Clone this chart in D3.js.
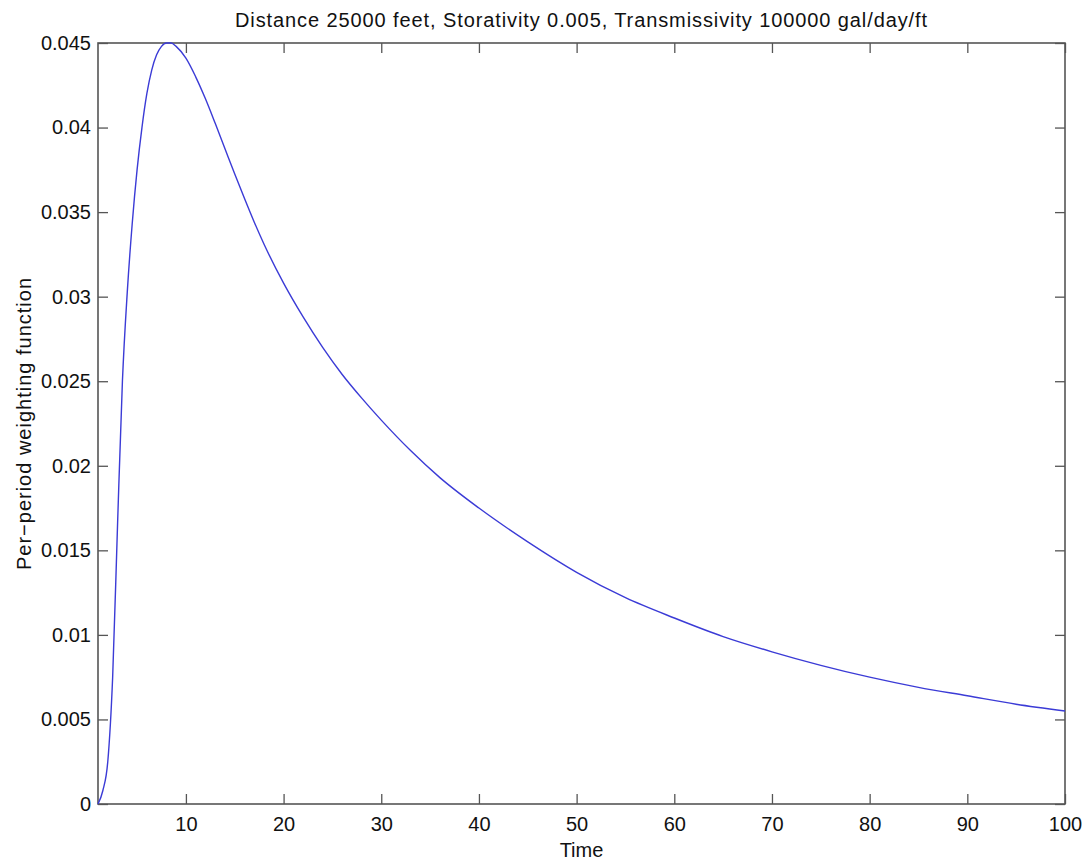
<!DOCTYPE html>
<html>
<head>
<meta charset="utf-8">
<script src="https://cdn.jsdelivr.net/npm/d3@7"></script>
<style>
  body { margin: 0; background: #fff; }
  svg text { font-family: "Liberation Sans", Arial, sans-serif; fill: #111; }
</style>
</head>
<body>
<div id="chart"></div>
<script>
// Time (periods) and weighting value
const times = [1, 1.5, 2, 2.5, 3, 3.5, 4, 4.5, 5, 5.5, 6, 6.5, 7, 7.5, 8, 8.5, 9, 10, 11, 12, 13, 14, 15,
    16, 17, 18, 20, 22, 24, 26, 28, 30, 33, 36, 40, 45, 50, 55, 60, 65, 70, 75, 80, 85, 90, 95, 100];
const weights = [0, 0.0008, 0.0025, 0.0075, 0.0165, 0.0250, 0.0303, 0.0343, 0.0375, 0.0400, 0.0420, 0.0434,
    0.0443, 0.0448, 0.0450, 0.0450, 0.0448, 0.0441, 0.0430, 0.0417, 0.04025, 0.03875, 0.03725,
    0.0358, 0.0344, 0.0331, 0.0308, 0.0288, 0.0270, 0.0254, 0.0240, 0.0227, 0.0209, 0.0193, 0.0175,
    0.0155, 0.0137, 0.0122, 0.0110, 0.0099, 0.0090, 0.0082, 0.0075, 0.0069, 0.0064, 0.0059, 0.0055];

const xTicks = [10, 20, 30, 40, 50, 60, 70, 80, 90, 100];
const yTicks = [0, 0.005, 0.01, 0.015, 0.02, 0.025, 0.03, 0.035, 0.04, 0.045];
const yTickLabels = ['0', '0.005', '0.01', '0.015', '0.02', '0.025', '0.03', '0.035', '0.04', '0.045'];

const titleText = 'Distance 25000 feet, Storativity 0.005, Transmissivity 100000 gal/day/ft';
const xLabel = 'Time';
const yLabel = 'Per\u2212period weighting function';

const W = 1089, H = 865;
const margin = {top: 43, right: 24, bottom: 61, left: 98};
const width = W - margin.left - margin.right;
const height = H - margin.top - margin.bottom;

const svg = d3.select('#chart').append('svg')
    .attr('width', W)
    .attr('height', H);

svg.append('rect').attr('width', W).attr('height', H).attr('fill', '#fff');

const g = svg.append('g')
    .attr('transform', `translate(${margin.left},${margin.top})`);

const x = d3.scaleLinear().domain([1, 100]).range([0, width]);
const y = d3.scaleLinear().domain([0, 0.045]).range([height, 0]);

const axisColor = '#555';
const fontSize = '20px';

function styleAxis(sel) {
    sel.select('.domain').remove();
    sel.selectAll('.tick line').attr('stroke', axisColor).attr('stroke-width', 1.3);
    sel.selectAll('.tick text').style('font-size', fontSize).attr('fill', '#111');
}

// bottom axis, ticks pointing inward
g.append('g')
    .attr('transform', `translate(0,${height})`)
    .call(d3.axisBottom(x).tickValues(xTicks).tickFormat(d3.format('d'))
        .tickSizeInner(-10).tickSizeOuter(0).tickPadding(13))
    .call(styleAxis);

// top mirrored ticks
g.append('g')
    .call(d3.axisTop(x).tickValues(xTicks).tickFormat('')
        .tickSizeInner(-10).tickSizeOuter(0))
    .call(styleAxis);

// left axis
g.append('g')
    .call(d3.axisLeft(y).tickValues(yTicks).tickFormat((d, i) => yTickLabels[i])
        .tickSizeInner(-10).tickSizeOuter(0).tickPadding(7))
    .call(styleAxis);

// right mirrored ticks
g.append('g')
    .attr('transform', `translate(${width},0)`)
    .call(d3.axisRight(y).tickValues(yTicks).tickFormat('')
        .tickSizeInner(-10).tickSizeOuter(0))
    .call(styleAxis);

// box
g.append('rect')
    .attr('width', width)
    .attr('height', height)
    .attr('fill', 'none')
    .attr('stroke', axisColor)
    .attr('stroke-width', 1.6);

// the curve
const data = times.map((t, i) => ({t: t, v: weights[i]}));
const line = d3.line()
    .x(d => x(d.t))
    .y(d => y(d.v))
    .curve(d3.curveMonotoneX);

g.append('path')
    .datum(data)
    .attr('fill', 'none')
    .attr('stroke', '#3b3bd6')
    .attr('stroke-width', 1.4)
    .attr('d', line);

// labels
svg.append('text')
    .attr('x', margin.left + width / 2)
    .attr('y', 27)
    .attr('text-anchor', 'middle')
    .style('font-size', fontSize)
    .style('letter-spacing', '0.9px')
    .text(titleText);

svg.append('text')
    .attr('x', margin.left + width / 2)
    .attr('y', 857)
    .attr('text-anchor', 'middle')
    .style('font-size', fontSize)
    .text(xLabel);

svg.append('text')
    .attr('transform', `translate(31,${margin.top + height / 2}) rotate(-90)`)
    .attr('text-anchor', 'middle')
    .style('font-size', fontSize)
    .style('letter-spacing', '1px')
    .text(yLabel);
</script>
</body>
</html>
